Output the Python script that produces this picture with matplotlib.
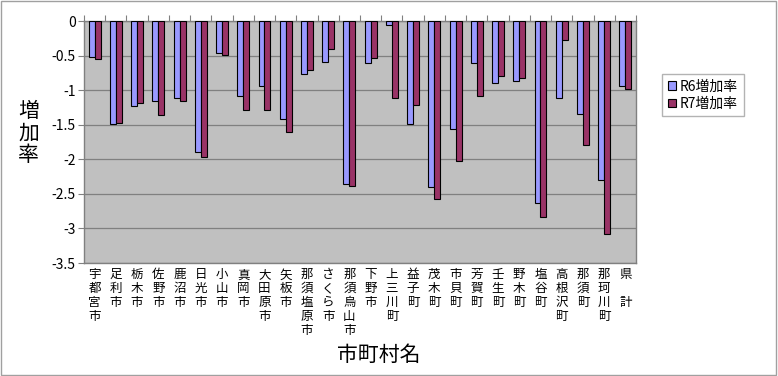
import numpy as np
import matplotlib
matplotlib.use("Agg")
import matplotlib.pyplot as plt
from matplotlib.patches import Rectangle

plt.rcParams['font.family'] = ['Noto Sans CJK JP', 'DejaVu Sans']
plt.rcParams['axes.unicode_minus'] = False

# municipalities (names written vertically in the chart)
names = ["宇都宮市", "足利市", "栃木市", "佐野市", "鹿沼市", "日光市", "小山市",
         "真岡市", "大田原市", "矢板市", "那須塩原市", "さくら市", "那須烏山市",
         "下野市", "上三川町", "益子町", "茂木町", "市貝町", "芳賀町", "壬生町",
         "野木町", "塩谷町", "高根沢町", "那須町", "那珂川町", "県\u3000計"]
r6 = [-0.52, -1.49, -1.23, -1.16, -1.11, -1.89, -0.46, -1.08, -0.94, -1.42,
      -0.76, -0.59, -2.35, -0.60, -0.05, -1.49, -2.40, -1.56, -0.61, -0.89,
      -0.86, -2.63, -1.12, -1.35, -2.30, -0.94]
r7 = [-0.55, -1.47, -1.18, -1.36, -1.16, -1.96, -0.49, -1.29, -1.28, -1.60,
      -0.71, -0.41, -2.38, -0.53, -1.11, -1.21, -2.57, -2.02, -1.09, -0.79,
      -0.82, -2.84, -0.27, -1.79, -3.08, -0.99]
series_names = ["R6増加率", "R7増加率"]
yticks = [0, -0.5, -1, -1.5, -2, -2.5, -3, -3.5]

fig = plt.figure(figsize=(7.78, 3.76), dpi=100)
# grey outer border like the excel chart area
fig.patches.append(Rectangle((0.001, 0.002), 0.997, 0.996, transform=fig.transFigure,
                             fill=False, edgecolor="#a0a0a0", linewidth=1))

ax = fig.add_axes([0.108, 0.3005, 0.7095, 0.6435])
ax.set_facecolor("#c0c0c0")

x = np.arange(len(names))
w = 0.28
ax.bar(x - w / 2, r6, w, color="#9999ff", edgecolor="black", linewidth=0.8,
       label=series_names[0], zorder=3)
ax.bar(x + w / 2, r7, w, color="#993366", edgecolor="black", linewidth=0.8,
       label=series_names[1], zorder=3)

ax.set_xlim(-0.5, len(names) - 0.5)
ax.set_ylim(-3.5, 0)
ax.set_yticks(yticks)
ax.set_yticklabels([f"{v:g}" for v in yticks], fontsize=10)
ax.yaxis.grid(True, color="#808080", linewidth=0.9, zorder=0)
ax.tick_params(axis="y", length=4, width=0.8, color="#808080", pad=2)

# category boundary ticks on the zero line (top)
ax.set_xticks(np.arange(len(names) + 1) - 0.5)
ax.set_xticklabels([])
ax.tick_params(axis="x", bottom=False, top=True, direction="out", length=4,
               width=0.8, color="#808080")

for s in ax.spines.values():
    s.set_color("#808080")
    s.set_linewidth(1)

# vertical category labels below the plot
for i, n in enumerate(names):
    ax.text(i, -0.022, "\n".join(n), transform=ax.get_xaxis_transform(),
            ha="center", va="top", fontsize=9, linespacing=1.08)

fig.text(0.037, 0.645, "増\n加\n率", ha="center", va="center", fontsize=15,
         linespacing=1.0)
fig.text(0.487, 0.057, "市町村名", ha="center", va="center", fontsize=15)

leg = ax.legend(loc="upper left", bbox_to_anchor=(0.842, 0.822),
                bbox_transform=fig.transFigure, fontsize=10, frameon=True,
                fancybox=False, edgecolor="#a0a0a0", handlelength=0.6,
                handleheight=0.6, handletextpad=0.3, borderpad=0.4,
                labelspacing=0.25)
leg.get_frame().set_linewidth(1)

fig.savefig("out.png", dpi=100)
